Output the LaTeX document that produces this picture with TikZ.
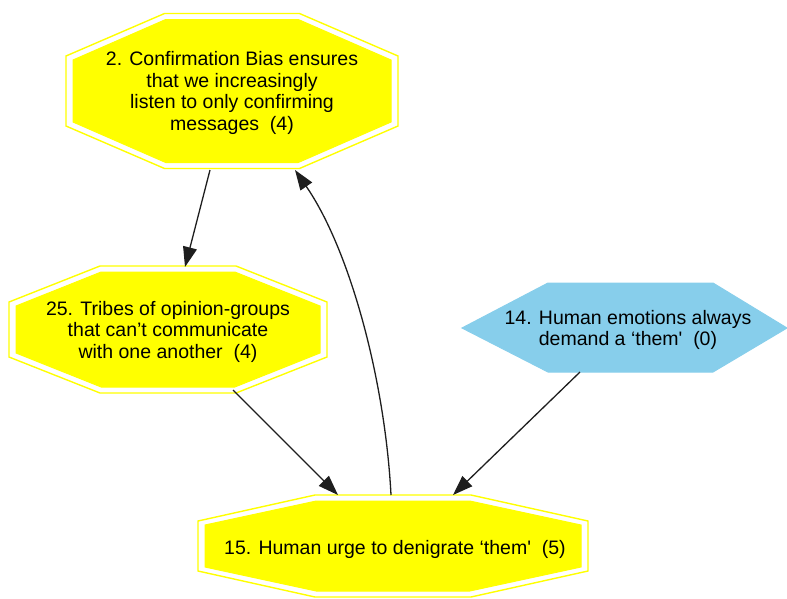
\documentclass[tikz,border=0pt]{standalone}
\usepackage{fontspec}
\setmainfont{Liberation Sans}[Ligatures=TeXOff]
\usetikzlibrary{calc,arrows.meta}
\definecolor{gvyellow}{RGB}{255,255,0}
\definecolor{gvblue}{RGB}{135,206,235}
\definecolor{edgecol}{RGB}{30,30,30}
\newcommand\octpath[5]{($(#1)+(-#4,-#3)$) -- ($(#1)+(#4,-#3)$) -- ($(#1)+(#2,-#5)$) -- ($(#1)+(#2,#5)$) -- ($(#1)+(#4,#3)$) -- ($(#1)+(-#4,#3)$) -- ($(#1)+(-#2,#5)$) -- ($(#1)+(-#2,-#5)$) -- cycle}
\tikzset{
  label/.style={align=center, inner sep=0pt, font=\fontsize{19.5}{21.5}\selectfont, text=black},
  outerline/.style={draw=gvyellow, line width=1.4pt},
  innerfill/.style={draw=gvyellow, fill=gvyellow, line width=1pt},
  hexfill/.style={draw=gvblue, fill=gvblue, line width=1pt},
  edge/.style={draw=edgecol, line width=1.3pt, -{Triangle[length=20pt,width=14pt]}},
}
\begin{document}
\begin{tikzpicture}[x=1pt,y=-1pt]
\useasboundingbox (0,0) rectangle (787,598);
% node centres
\coordinate (c2) at (232,91);
\coordinate (c25) at (168,329.5);
\coordinate (c15) at (393,546);
\coordinate (c14) at (628,330);
% shapes
\path[outerline] \octpath{c2}{166}{77.5}{67.5}{35};
\path[innerfill] \octpath{c2}{159}{71.5}{66.3}{31};
\path[outerline] \octpath{c25}{159}{63.5}{68}{27.5};
\path[innerfill] \octpath{c25}{152}{57.5}{66.8}{23.5};
\path[outerline] \octpath{c15}{195}{51}{78}{25};
\path[innerfill] \octpath{c15}{188}{45}{76.8}{21};
\path[hexfill] ($(c14)+(-166,-2)$) -- ($(c14)+(-80,-47)$) -- ($(c14)+(85,-47)$) -- ($(c14)+(159,-2)$) -- ($(c14)+(85,42)$) -- ($(c14)+(-80,42)$) -- cycle;
% texts
\node[label] (n2) at ($(c2)+(0,2)$) {2. Confirmation Bias ensures\\that we increasingly\\listen to only confirming\\messages\ \ (4)};
\node[label] (n25) at ($(c25)+(0,2)$) {25. Tribes of opinion-groups\\that can’t communicate\\with one another\ \ (4)};
\node[label] (n14) at (c14) {14. Human emotions always\\demand a ‘them'\ \ (0)};
\node[label] (n15) at ($(c15)+(2,3)$) {15. Human urge to denigrate ‘them'\ \ (5)};
% connector ends
\coordinate (e1s) at ($(c2)+(-22,79)$);
\coordinate (e1t) at ($(c25)+(17,-62.5)$);
\coordinate (e2s) at ($(c15)+(-2,-51)$);
\coordinate (e2t) at ($(c2)+(63,79)$);
\coordinate (e3s) at ($(c25)+(65,60.5)$);
\coordinate (e3t) at ($(c15)+(-55,-51)$);
\coordinate (e4s) at ($(c14)+(-48,42)$);
\coordinate (e4t) at ($(c15)+(60,-51)$);
% connectors
\draw[edge] (e1s) -- (e1t);
\draw[edge] (e2s) .. controls (385,380) and (350,250) .. (e2t);
\draw[edge] (e3s) -- (e3t);
\draw[edge] (e4s) -- (e4t);
\end{tikzpicture}
\end{document}
